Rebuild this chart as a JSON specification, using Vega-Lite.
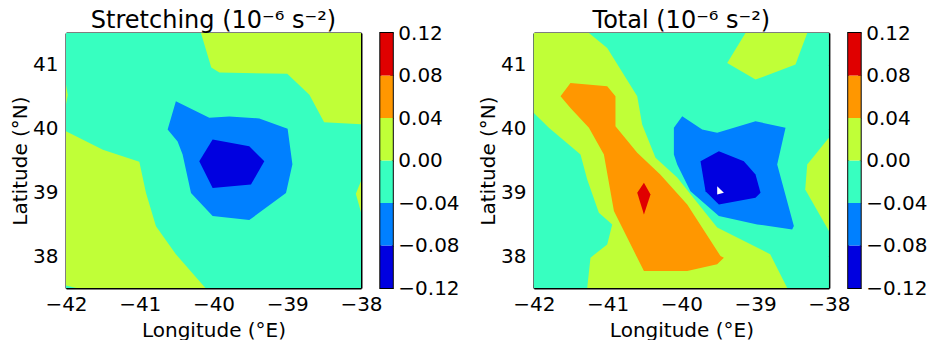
{
  "$schema": "https://vega.github.io/schema/vega-lite/v6.json",
  "padding": {"left": 10, "top": 8, "right": 0, "bottom": 0},
  "background": "white",
  "config": {
    "font": "DejaVu Sans",
    "view": {"stroke": null},
    "axis": {"labelFont": "DejaVu Sans", "labelFontSize": 20, "labelColor": "black", "titleFont": "DejaVu Sans", "titleFontSize": 20, "titleFontWeight": "normal", "titleColor": "black", "grid": false, "domainColor": "black", "domainWidth": 2, "tickColor": "black", "tickWidth": 1, "labelFlush": false, "labelOverlap": false, "zindex": 1}
  },
  "bounds": "flush",
  "spacing": 19.3,
  "datasets": {
    "stretch": [
      {"p": "s0", "lev": -0.04, "i": 1, "lon": -42, "lat": 37.5},
      {"p": "s0", "lev": -0.04, "i": 2, "lon": -38, "lat": 37.5},
      {"p": "s0", "lev": -0.04, "i": 3, "lon": -38, "lat": 41.5},
      {"p": "s0", "lev": -0.04, "i": 4, "lon": -42, "lat": 41.5},
      {"p": "s1", "lev": 0, "i": 1, "lon": -40.17, "lat": 41.5},
      {"p": "s1", "lev": 0, "i": 2, "lon": -40.03, "lat": 40.96},
      {"p": "s1", "lev": 0, "i": 3, "lon": -39.92, "lat": 40.88},
      {"p": "s1", "lev": 0, "i": 4, "lon": -39.0, "lat": 40.86},
      {"p": "s1", "lev": 0, "i": 5, "lon": -38.7, "lat": 40.53},
      {"p": "s1", "lev": 0, "i": 6, "lon": -38.5, "lat": 40.1},
      {"p": "s1", "lev": 0, "i": 7, "lon": -38.0, "lat": 40.07},
      {"p": "s1", "lev": 0, "i": 8, "lon": -38.0, "lat": 41.5},
      {"p": "s2", "lev": 0, "i": 1, "lon": -42, "lat": 40.69},
      {"p": "s2", "lev": 0, "i": 2, "lon": -41.976, "lat": 40.53},
      {"p": "s2", "lev": 0, "i": 3, "lon": -42, "lat": 40.38},
      {"p": "s3", "lev": 0, "i": 1, "lon": -42, "lat": 39.96},
      {"p": "s3", "lev": 0, "i": 2, "lon": -41.5, "lat": 39.67},
      {"p": "s3", "lev": 0, "i": 3, "lon": -41.006, "lat": 39.48},
      {"p": "s3", "lev": 0, "i": 4, "lon": -40.915, "lat": 38.99},
      {"p": "s3", "lev": 0, "i": 5, "lon": -40.78, "lat": 38.47},
      {"p": "s3", "lev": 0, "i": 6, "lon": -40.51, "lat": 38.03},
      {"p": "s3", "lev": 0, "i": 7, "lon": -40.11, "lat": 37.5},
      {"p": "s3", "lev": 0, "i": 8, "lon": -41.86, "lat": 37.5},
      {"p": "s3", "lev": 0, "i": 9, "lon": -42, "lat": 37.54},
      {"p": "s4", "lev": 0, "i": 1, "lon": -38, "lat": 39.18},
      {"p": "s4", "lev": 0, "i": 2, "lon": -38.07, "lat": 38.98},
      {"p": "s4", "lev": 0, "i": 3, "lon": -38, "lat": 38.69},
      {"p": "s5", "lev": -0.08, "i": 1, "lon": -40.51, "lat": 40.43},
      {"p": "s5", "lev": -0.08, "i": 2, "lon": -40.057, "lat": 40.17},
      {"p": "s5", "lev": -0.08, "i": 3, "lon": -39.786, "lat": 40.19},
      {"p": "s5", "lev": -0.08, "i": 4, "lon": -39.379, "lat": 40.16},
      {"p": "s5", "lev": -0.08, "i": 5, "lon": -38.995, "lat": 40.0},
      {"p": "s5", "lev": -0.08, "i": 6, "lon": -38.93, "lat": 39.44},
      {"p": "s5", "lev": -0.08, "i": 7, "lon": -39.017, "lat": 38.99},
      {"p": "s5", "lev": -0.08, "i": 8, "lon": -39.515, "lat": 38.565},
      {"p": "s5", "lev": -0.08, "i": 9, "lon": -40.012, "lat": 38.63},
      {"p": "s5", "lev": -0.08, "i": 10, "lon": -40.305, "lat": 38.99},
      {"p": "s5", "lev": -0.08, "i": 11, "lon": -40.419, "lat": 39.594},
      {"p": "s5", "lev": -0.08, "i": 12, "lon": -40.487, "lat": 39.8},
      {"p": "s5", "lev": -0.08, "i": 13, "lon": -40.622, "lat": 39.985},
      {"p": "s6", "lev": -0.12, "i": 1, "lon": -40.193, "lat": 39.49},
      {"p": "s6", "lev": -0.12, "i": 2, "lon": -40.012, "lat": 39.83},
      {"p": "s6", "lev": -0.12, "i": 3, "lon": -39.515, "lat": 39.724},
      {"p": "s6", "lev": -0.12, "i": 4, "lon": -39.311, "lat": 39.49},
      {"p": "s6", "lev": -0.12, "i": 5, "lon": -39.492, "lat": 39.124},
      {"p": "s6", "lev": -0.12, "i": 6, "lon": -40.012, "lat": 39.07}
    ],
    "total": [
      {"p": "t0", "lev": -0.04, "i": 1, "lon": -42, "lat": 37.5},
      {"p": "t0", "lev": -0.04, "i": 2, "lon": -38, "lat": 37.5},
      {"p": "t0", "lev": -0.04, "i": 3, "lon": -38, "lat": 41.5},
      {"p": "t0", "lev": -0.04, "i": 4, "lon": -42, "lat": 41.5},
      {"p": "t1", "lev": 0, "i": 1, "lon": -42, "lat": 41.5},
      {"p": "t1", "lev": 0, "i": 2, "lon": -41.254, "lat": 41.5},
      {"p": "t1", "lev": 0, "i": 3, "lon": -41.006, "lat": 41.265},
      {"p": "t1", "lev": 0, "i": 4, "lon": -40.599, "lat": 40.507},
      {"p": "t1", "lev": 0, "i": 5, "lon": -40.532, "lat": 40.064},
      {"p": "t1", "lev": 0, "i": 6, "lon": -40.351, "lat": 39.542},
      {"p": "t1", "lev": 0, "i": 7, "lon": -40.057, "lat": 39.234},
      {"p": "t1", "lev": 0, "i": 8, "lon": -39.515, "lat": 38.45},
      {"p": "t1", "lev": 0, "i": 9, "lon": -38.796, "lat": 38.03},
      {"p": "t1", "lev": 0, "i": 10, "lon": -38.565, "lat": 37.5},
      {"p": "t1", "lev": 0, "i": 11, "lon": -41.277, "lat": 37.5},
      {"p": "t1", "lev": 0, "i": 12, "lon": -41.233, "lat": 37.976},
      {"p": "t1", "lev": 0, "i": 13, "lon": -41.006, "lat": 38.184},
      {"p": "t1", "lev": 0, "i": 14, "lon": -40.938, "lat": 38.498},
      {"p": "t1", "lev": 0, "i": 15, "lon": -41.119, "lat": 38.681},
      {"p": "t1", "lev": 0, "i": 16, "lon": -41.277, "lat": 39.202},
      {"p": "t1", "lev": 0, "i": 17, "lon": -41.368, "lat": 39.594},
      {"p": "t1", "lev": 0, "i": 18, "lon": -41.797, "lat": 40.012},
      {"p": "t1", "lev": 0, "i": 19, "lon": -42, "lat": 40.247},
      {"p": "t2", "lev": 0, "i": 1, "lon": -39.131, "lat": 41.5},
      {"p": "t2", "lev": 0, "i": 2, "lon": -38.294, "lat": 41.5},
      {"p": "t2", "lev": 0, "i": 3, "lon": -38.453, "lat": 41.004},
      {"p": "t2", "lev": 0, "i": 4, "lon": -38.995, "lat": 40.769},
      {"p": "t2", "lev": 0, "i": 5, "lon": -39.379, "lat": 41.03},
      {"p": "t3", "lev": 0, "i": 1, "lon": -38, "lat": 39.856},
      {"p": "t3", "lev": 0, "i": 2, "lon": -38.294, "lat": 39.437},
      {"p": "t3", "lev": 0, "i": 3, "lon": -38.321, "lat": 39.046},
      {"p": "t3", "lev": 0, "i": 4, "lon": -38, "lat": 38.393},
      {"p": "t4", "lev": 0.04, "i": 1, "lon": -41.504, "lat": 40.717},
      {"p": "t4", "lev": 0.04, "i": 2, "lon": -41.006, "lat": 40.664},
      {"p": "t4", "lev": 0.04, "i": 3, "lon": -40.894, "lat": 40.507},
      {"p": "t4", "lev": 0.04, "i": 4, "lon": -40.894, "lat": 40.037},
      {"p": "t4", "lev": 0.04, "i": 5, "lon": -40.599, "lat": 39.621},
      {"p": "t4", "lev": 0.04, "i": 6, "lon": -40.287, "lat": 39.281},
      {"p": "t4", "lev": 0.04, "i": 7, "lon": -39.921, "lat": 38.811},
      {"p": "t4", "lev": 0.04, "i": 8, "lon": -39.47, "lat": 38.001},
      {"p": "t4", "lev": 0.04, "i": 9, "lon": -39.424, "lat": 37.976},
      {"p": "t4", "lev": 0.04, "i": 10, "lon": -39.515, "lat": 37.871},
      {"p": "t4", "lev": 0.04, "i": 11, "lon": -39.921, "lat": 37.766},
      {"p": "t4", "lev": 0.04, "i": 12, "lon": -40.508, "lat": 37.766},
      {"p": "t4", "lev": 0.04, "i": 13, "lon": -40.644, "lat": 38.079},
      {"p": "t4", "lev": 0.04, "i": 14, "lon": -40.915, "lat": 38.706},
      {"p": "t4", "lev": 0.04, "i": 15, "lon": -41.051, "lat": 39.594},
      {"p": "t4", "lev": 0.04, "i": 16, "lon": -41.254, "lat": 40.012},
      {"p": "t4", "lev": 0.04, "i": 17, "lon": -41.504, "lat": 40.325},
      {"p": "t4", "lev": 0.04, "i": 18, "lon": -41.639, "lat": 40.507},
      {"p": "t5", "lev": 0.08, "i": 1, "lon": -40.508, "lat": 39.151},
      {"p": "t5", "lev": 0.08, "i": 2, "lon": -40.419, "lat": 38.967},
      {"p": "t5", "lev": 0.08, "i": 3, "lon": -40.508, "lat": 38.654},
      {"p": "t5", "lev": 0.08, "i": 4, "lon": -40.599, "lat": 38.994},
      {"p": "t6", "lev": -0.08, "i": 1, "lon": -40.102, "lat": 40.012},
      {"p": "t6", "lev": -0.08, "i": 2, "lon": -39.989, "lat": 40.194},
      {"p": "t6", "lev": -0.08, "i": 3, "lon": -39.718, "lat": 39.985},
      {"p": "t6", "lev": -0.08, "i": 4, "lon": -39.515, "lat": 39.934},
      {"p": "t6", "lev": -0.08, "i": 5, "lon": -38.995, "lat": 40.116},
      {"p": "t6", "lev": -0.08, "i": 6, "lon": -38.588, "lat": 40.012},
      {"p": "t6", "lev": -0.08, "i": 7, "lon": -38.701, "lat": 39.437},
      {"p": "t6", "lev": -0.08, "i": 8, "lon": -38.475, "lat": 38.471},
      {"p": "t6", "lev": -0.08, "i": 9, "lon": -38.498, "lat": 38.419},
      {"p": "t6", "lev": -0.08, "i": 10, "lon": -38.972, "lat": 38.498},
      {"p": "t6", "lev": -0.08, "i": 11, "lon": -39.492, "lat": 38.628},
      {"p": "t6", "lev": -0.08, "i": 12, "lon": -39.877, "lat": 39.019},
      {"p": "t6", "lev": -0.08, "i": 13, "lon": -40.057, "lat": 39.437},
      {"p": "t6", "lev": -0.08, "i": 14, "lon": -40.102, "lat": 39.594},
      {"p": "t7", "lev": -0.12, "i": 1, "lon": -39.741, "lat": 39.49},
      {"p": "t7", "lev": -0.12, "i": 2, "lon": -39.492, "lat": 39.646},
      {"p": "t7", "lev": -0.12, "i": 3, "lon": -39.153, "lat": 39.49},
      {"p": "t7", "lev": -0.12, "i": 4, "lon": -38.995, "lat": 39.281},
      {"p": "t7", "lev": -0.12, "i": 5, "lon": -38.927, "lat": 38.994},
      {"p": "t7", "lev": -0.12, "i": 6, "lon": -38.995, "lat": 38.916},
      {"p": "t7", "lev": -0.12, "i": 7, "lon": -39.492, "lat": 38.811},
      {"p": "t7", "lev": -0.12, "i": 8, "lon": -39.673, "lat": 39.019},
      {"p": "t8", "lev": -0.16, "i": 1, "lon": -39.515, "lat": 39.097},
      {"p": "t8", "lev": -0.16, "i": 2, "lon": -39.424, "lat": 38.994},
      {"p": "t8", "lev": -0.16, "i": 3, "lon": -39.515, "lat": 38.967}
    ],
    "cbar": [
      {"lo": -0.12, "hi": -0.08},
      {"lo": -0.08, "hi": -0.04},
      {"lo": -0.04, "hi": 0},
      {"lo": 0, "hi": 0.04},
      {"lo": 0.04, "hi": 0.08},
      {"lo": 0.08, "hi": 0.12}
    ]
  },
  "hconcat": [
    {
      "width": 295, "height": 255,
      "title": {"text": "Stretching (10⁻⁶ s⁻²)", "fontSize": 24, "fontWeight": "normal", "font": "DejaVu Sans", "color": "black", "offset": 0, "anchor": "middle"},
      "data": {"name": "stretch"},
      "resolve": {"axis": {"x": "independent", "y": "independent"}},
      "encoding": {
        "x": {"field": "lon", "type": "quantitative", "scale": {"domain": [-42, -38], "nice": false, "zero": false}, "axis": null},
        "y": {"field": "lat", "type": "quantitative", "scale": {"domain": [37.5, 41.5], "nice": false, "zero": false}, "axis": null},
        "order": {"field": "i", "type": "quantitative"},
        "detail": {"field": "p", "type": "nominal"},
        "fill": {"field": "lev", "type": "ordinal", "scale": {"domain": [-0.16, -0.12, -0.08, -0.04, 0, 0.04, 0.08], "range": ["#ffffff", "#0000e0", "#0080ff", "#37ffc0", "#c0ff37", "#ff9700", "#e00000"]}, "legend": null}
      },
      "layer": [
        {"transform": [{"filter": "datum.lev == -0.04"}], "mark": {"type": "line", "strokeWidth": 0},
         "encoding": {
           "x": {"field": "lon", "type": "quantitative", "scale": {"domain": [-42, -38], "nice": false, "zero": false}, "axis": {"orient": "bottom", "values": [-42, -41, -40, -39, -38], "format": "d", "tickSize": -4, "labelPadding": 10, "title": "Longitude (°E)", "titlePadding": 6}},
           "y": {"field": "lat", "type": "quantitative", "scale": {"domain": [37.5, 41.5], "nice": false, "zero": false}, "axis": {"orient": "left", "values": [38, 39, 40, 41], "format": "d", "tickSize": -4, "labelPadding": 12, "title": "Latitude (°N)", "titlePadding": 2}}
         }},
        {"transform": [{"filter": "datum.lev == 0"}], "mark": {"type": "line", "strokeWidth": 0},
         "encoding": {
           "x": {"field": "lon", "type": "quantitative", "scale": {"domain": [-42, -38], "nice": false, "zero": false}, "axis": {"orient": "top", "values": [-42, -41, -40, -39, -38], "tickSize": -4, "labels": false, "title": null}},
           "y": {"field": "lat", "type": "quantitative", "scale": {"domain": [37.5, 41.5], "nice": false, "zero": false}, "axis": {"orient": "right", "values": [38, 39, 40, 41], "tickSize": -4, "labels": false, "title": null}}
         }},
        {"transform": [{"filter": "datum.lev == 0.04"}], "mark": {"type": "line", "strokeWidth": 0}},
        {"transform": [{"filter": "datum.lev == 0.08"}], "mark": {"type": "line", "strokeWidth": 0}},
        {"transform": [{"filter": "datum.lev == -0.08"}], "mark": {"type": "line", "strokeWidth": 0}},
        {"transform": [{"filter": "datum.lev == -0.12"}], "mark": {"type": "line", "strokeWidth": 0}},
        {"transform": [{"filter": "datum.lev == -0.16"}], "mark": {"type": "line", "strokeWidth": 0}}
      ]
    },
    {
      "width": 12.5, "height": 255,
      "view": {"stroke": "black", "strokeWidth": 2},
      "data": {"name": "cbar"},
      "mark": {"type": "rect"},
      "encoding": {
        "y": {"field": "lo", "type": "quantitative", "scale": {"domain": [-0.12, 0.12], "nice": false, "zero": false}, "axis": {"orient": "right", "values": [-0.12, -0.08, -0.04, 0, 0.04, 0.08, 0.12], "format": ".2f", "tickSize": -3, "labelPadding": 8, "domain": false, "title": null}},
        "y2": {"field": "hi"},
        "fill": {"field": "lo", "type": "ordinal", "legend": null}
      }
    },
    {
      "width": 101.6, "height": 255,
      "data": {"values": [{"a": 1}]},
      "mark": {"type": "point", "opacity": 0},
      "encoding": {}
    },
    {
      "width": 295, "height": 255,
      "title": {"text": "Total (10⁻⁶ s⁻²)", "fontSize": 24, "fontWeight": "normal", "font": "DejaVu Sans", "color": "black", "offset": 0, "anchor": "middle"},
      "data": {"name": "total"},
      "resolve": {"axis": {"x": "independent", "y": "independent"}},
      "encoding": {
        "x": {"field": "lon", "type": "quantitative", "scale": {"domain": [-42, -38], "nice": false, "zero": false}, "axis": null},
        "y": {"field": "lat", "type": "quantitative", "scale": {"domain": [37.5, 41.5], "nice": false, "zero": false}, "axis": null},
        "order": {"field": "i", "type": "quantitative"},
        "detail": {"field": "p", "type": "nominal"},
        "fill": {"field": "lev", "type": "ordinal", "legend": null}
      },
      "layer": [
        {"transform": [{"filter": "datum.lev == -0.04"}], "mark": {"type": "line", "strokeWidth": 0},
         "encoding": {
           "x": {"field": "lon", "type": "quantitative", "scale": {"domain": [-42, -38], "nice": false, "zero": false}, "axis": {"orient": "bottom", "values": [-42, -41, -40, -39, -38], "format": "d", "tickSize": -4, "labelPadding": 10, "title": "Longitude (°E)", "titlePadding": 6}},
           "y": {"field": "lat", "type": "quantitative", "scale": {"domain": [37.5, 41.5], "nice": false, "zero": false}, "axis": {"orient": "left", "values": [38, 39, 40, 41], "format": "d", "tickSize": -4, "labelPadding": 12, "title": "Latitude (°N)", "titlePadding": 2}}
         }},
        {"transform": [{"filter": "datum.lev == 0"}], "mark": {"type": "line", "strokeWidth": 0},
         "encoding": {
           "x": {"field": "lon", "type": "quantitative", "scale": {"domain": [-42, -38], "nice": false, "zero": false}, "axis": {"orient": "top", "values": [-42, -41, -40, -39, -38], "tickSize": -4, "labels": false, "title": null}},
           "y": {"field": "lat", "type": "quantitative", "scale": {"domain": [37.5, 41.5], "nice": false, "zero": false}, "axis": {"orient": "right", "values": [38, 39, 40, 41], "tickSize": -4, "labels": false, "title": null}}
         }},
        {"transform": [{"filter": "datum.lev == 0.04"}], "mark": {"type": "line", "strokeWidth": 0}},
        {"transform": [{"filter": "datum.lev == 0.08"}], "mark": {"type": "line", "strokeWidth": 0}},
        {"transform": [{"filter": "datum.lev == -0.08"}], "mark": {"type": "line", "strokeWidth": 0}},
        {"transform": [{"filter": "datum.lev == -0.12"}], "mark": {"type": "line", "strokeWidth": 0}},
        {"transform": [{"filter": "datum.lev == -0.16"}], "mark": {"type": "line", "strokeWidth": 0}}
      ]
    },
    {
      "width": 12.5, "height": 255,
      "view": {"stroke": "black", "strokeWidth": 2},
      "data": {"name": "cbar"},
      "mark": {"type": "rect"},
      "encoding": {
        "y": {"field": "lo", "type": "quantitative", "scale": {"domain": [-0.12, 0.12], "nice": false, "zero": false}, "axis": {"orient": "right", "values": [-0.12, -0.08, -0.04, 0, 0.04, 0.08, 0.12], "format": ".2f", "tickSize": -3, "labelPadding": 8, "domain": false, "title": null}},
        "y2": {"field": "hi"},
        "fill": {"field": "lo", "type": "ordinal", "legend": null}
      }
    }
  ]
}
